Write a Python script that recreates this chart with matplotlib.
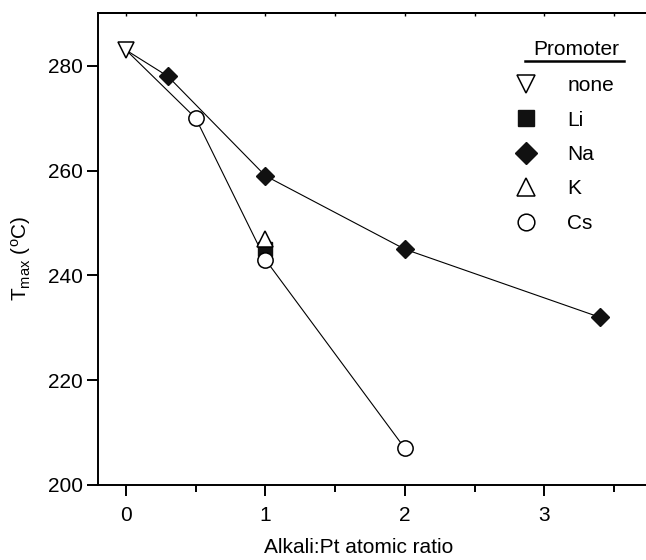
import numpy as np
import matplotlib
matplotlib.use("Agg")
import matplotlib.pyplot as plt
from matplotlib.lines import Line2D

plt.rcParams['font.family'] = ['Liberation Sans', 'DejaVu Sans']
plt.rcParams['mathtext.fontset'] = 'custom'
plt.rcParams['mathtext.rm'] = 'Liberation Sans'
plt.rcParams['mathtext.it'] = 'Liberation Sans'

# T_max vs alkali:Pt ratio for each promoter
none_x = [0]
none_y = [283]
li_x = [1]
li_y = [245]
na_x = [0.3, 1, 2, 3.4]
na_y = [278, 259, 245, 232]
k_x = [1]
k_y = [247]
cs_x = [0.5, 1, 2]
cs_y = [270, 243, 207]

FS = 15

fig = plt.figure(figsize=(6.46, 5.6), dpi=100)
ax = fig.add_axes([0.152, 0.134, 0.863, 0.842])

# connecting lines start from the unpromoted sample
ax.plot(none_x + na_x, none_y + na_y, color='black', lw=0.8, zorder=1)
ax.plot(none_x + cs_x, none_y + cs_y, color='black', lw=0.8, zorder=1)

ax.plot(none_x, none_y, 'v', ms=11.5, mfc='white', mec='black', mew=1.1, ls='none', zorder=3)
ax.plot(li_x, li_y, 's', ms=10, mfc='#111111', mec='#111111', ls='none', zorder=2)
ax.plot(na_x, na_y, 'D', ms=8.7, mfc='#111111', mec='#111111', ls='none', zorder=3)
ax.plot(k_x, k_y, '^', ms=11.5, mfc='white', mec='black', mew=1.1, ls='none', zorder=3)
ax.plot(cs_x, cs_y, 'o', ms=11, mfc='white', mec='black', mew=1.1, ls='none', zorder=4)

ax.set_xlim(-0.2, 3.8)
ax.set_ylim(200, 290)
ax.set_xticks([0, 1, 2, 3])
ax.set_xticks([0.5, 1.5, 2.5, 3.5], minor=True)
ax.set_yticks([200, 220, 240, 260, 280])

for s in ax.spines.values():
    s.set_linewidth(1.4)
ax.tick_params(axis='both', which='major', direction='out', length=8, width=1.4,
               labelsize=FS)
ax.tick_params(axis='x', which='major', pad=7)
ax.tick_params(axis='y', which='major', pad=3)
ax.tick_params(axis='x', which='minor', direction='out', length=5, width=1.4)

top = ax.secondary_xaxis('top')
top.set_xticks([0, 1, 2, 3])
top.set_xticks([0.5, 1.5, 2.5, 3.5], minor=True)
top.tick_params(which='both', direction='in', length=2.5, width=1.0, labeltop=False)
top.spines['top'].set_linewidth(1.4)

ax.set_xlabel('Alkali:Pt atomic ratio', fontsize=FS)
ax.xaxis.set_label_coords(0.467, -0.113)
ax.set_ylabel(r'T$_{\rm max}$ ($^{\rm o}$C)', fontsize=FS)
ax.yaxis.set_label_coords(-0.117, 0.48)

handles = [
    Line2D([], [], marker='v', ms=13, mfc='white', mec='black', mew=1.1, ls='none'),
    Line2D([], [], marker='s', ms=11.5, mfc='#111111', mec='#111111', ls='none'),
    Line2D([], [], marker='D', ms=11, mfc='#111111', mec='#111111', ls='none'),
    Line2D([], [], marker='^', ms=13, mfc='white', mec='black', mew=1.1, ls='none'),
    Line2D([], [], marker='o', ms=12, mfc='white', mec='black', mew=1.1, ls='none'),
]
labels = ['none', 'Li', 'Na', 'K', 'Cs']
ax.legend(handles, labels, loc='upper left', bbox_to_anchor=(0.748, 0.867),
          frameon=False, fontsize=FS, handlelength=1.0, handletextpad=1.5,
          labelspacing=0.74, borderpad=0, borderaxespad=0)

ax.text(0.858, 0.924, 'Promoter', transform=ax.transAxes, fontsize=FS,
        ha='center', va='center')
ax.plot([0.765, 0.943], [0.900, 0.900], transform=ax.transAxes, color='black',
        lw=1.8, clip_on=False)

fig.savefig('out.png', dpi=100)
